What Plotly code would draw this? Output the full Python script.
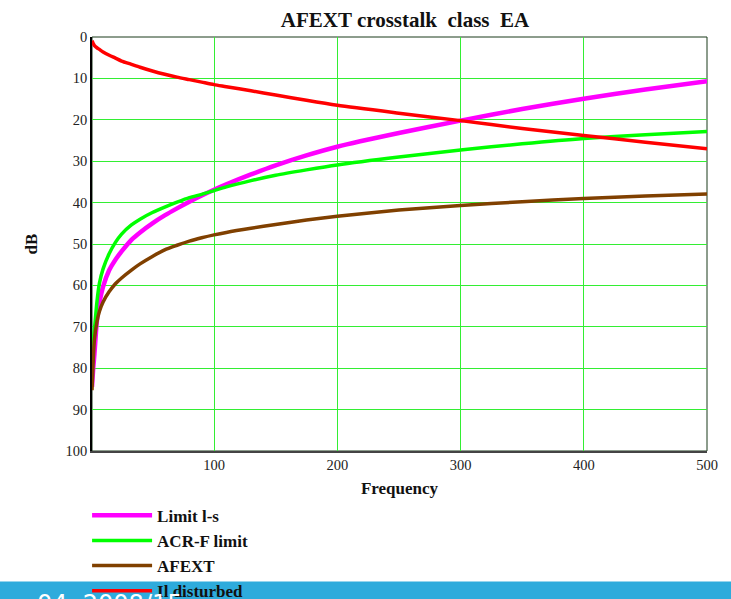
import plotly.graph_objects as go

# Frequency samples (MHz)
freq = [1, 2, 3, 5, 7, 10, 15, 20, 25, 33, 40, 50, 60, 70, 80, 90, 100, 110,
        130, 150, 175, 200, 250, 300, 350, 400, 450, 500]

# Series values (dB)
limit_ls = [84.5, 80.0, 76.5, 68.5, 64.3, 60.3, 56.3, 53.8, 51.8, 49.0, 47.2, 45.0,
            43.1, 41.4, 39.8, 38.3, 36.9, 35.6, 33.2, 31.0, 28.6, 26.5, 23.2, 20.2,
            17.4, 14.9, 12.7, 10.7]
acrf_limit = [76.4, 73.0, 70.5, 64.0, 59.5, 56.0, 52.3, 49.6, 47.6, 45.4, 44.0, 42.4,
              41.1, 39.9, 38.8, 38.0, 37.1, 36.2, 34.7, 33.4, 32.1, 30.9, 29.0, 27.3,
              25.8, 24.5, 23.6, 22.8]
afext = [85.3, 78.0, 73.0, 68.8, 66.3, 64.0, 61.5, 59.6, 58.2, 56.3, 54.8, 53.0,
         51.4, 50.3, 49.3, 48.5, 47.8, 47.2, 46.2, 45.3, 44.2, 43.3, 41.8, 40.7,
         39.8, 39.0, 38.4, 37.9]
il_disturbed = [0.9, 1.6, 2.1, 2.6, 3.0, 3.6, 4.4, 5.1, 5.8, 6.6, 7.3, 8.2,
                9.0, 9.7, 10.3, 10.9, 11.5, 12.0, 13.0, 14.0, 15.3, 16.5, 18.4, 20.2,
                22.1, 23.8, 25.4, 27.0]

series_names = ["Limit l-s", "ACR-F limit", "AFEXT", "Il disturbed"]
series_values = [limit_ls, acrf_limit, afext, il_disturbed]
series_colors = ["#ff00ff", "#00ff00", "#804000", "#ff0000"]
series_widths = [4.5, 3.5, 3.5, 3.5]

y_ticks = list(range(0, 101, 10))
x_ticks = [100, 200, 300, 400, 500]

TXT = "Liberation Serif, Times New Roman, serif"

fig = go.Figure()
for name, vals, col, w in zip(series_names, series_values, series_colors, series_widths):
    fig.add_trace(go.Scatter(x=freq, y=vals, mode="lines", name="<b>" + name + "</b>",
                             line=dict(color=col, width=w, shape="spline", smoothing=0.7)))

fig.update_layout(
    width=731, height=599,
    margin=dict(l=92, r=24, t=37, b=148, autoexpand=False),
    paper_bgcolor="white", plot_bgcolor="white",
    font=dict(family=TXT, color="#222222", size=14),
    title=dict(text="<b>AFEXT crosstalk  class  EA</b>", x=0.509, xref="paper",
               y=1 - 20 / 599, yref="container", xanchor="center", yanchor="middle",
               font=dict(family=TXT, size=21, color="#111111")),
    showlegend=True,
    legend=dict(x=-0.008, y=-0.113, xanchor="left", yanchor="top",
                font=dict(family=TXT, size=17, color="#111111"),
                bgcolor="rgba(0,0,0,0)", borderwidth=0, itemwidth=60,
                tracegroupgap=0),
    shapes=[
        dict(type="rect", xref="paper", yref="paper", x0=-0.16, x1=1.05,
             y0=-0.40, y1=(450.7 - 581) / 413.4, fillcolor="#2eabdc",
             line=dict(width=0), layer="below"),
        dict(type="rect", xref="paper", yref="paper", x0=0, x1=1, y0=0, y1=1,
             line=dict(color="#1a3a1a", width=1), layer="below"),
    ],
    annotations=[
        dict(text="04  2008/15", xref="paper", yref="paper", x=(35 - 92) / 615,
             y=(450.7 - 603) / 413.4, xanchor="left", yanchor="middle",
             showarrow=False, font=dict(family="DejaVu Sans", size=24, color="white")),
    ],
)

fig.update_xaxes(range=[1, 500], tickvals=x_ticks, ticks="", showgrid=True,
                 gridcolor="#33ee33", gridwidth=1, zeroline=False,
                 showline=True, linecolor="#444444", linewidth=2,
                 tickfont=dict(family=TXT, size=14.5, color="#222222"),
                 title=dict(text="<b>Frequency</b>", standoff=10,
                            font=dict(family=TXT, size=17, color="#111111")))
fig.update_yaxes(range=[100, 0], tickvals=y_ticks, ticks="", showgrid=True,
                 gridcolor="#33ee33", gridwidth=1, zeroline=False,
                 showline=True, linecolor="#000000", linewidth=1.5,
                 tickfont=dict(family=TXT, size=14.5, color="#222222"),
                 title=dict(text="<b>dB</b>", standoff=24,
                            font=dict(family=TXT, size=17, color="#111111")))

fig.write_html("out.html")
